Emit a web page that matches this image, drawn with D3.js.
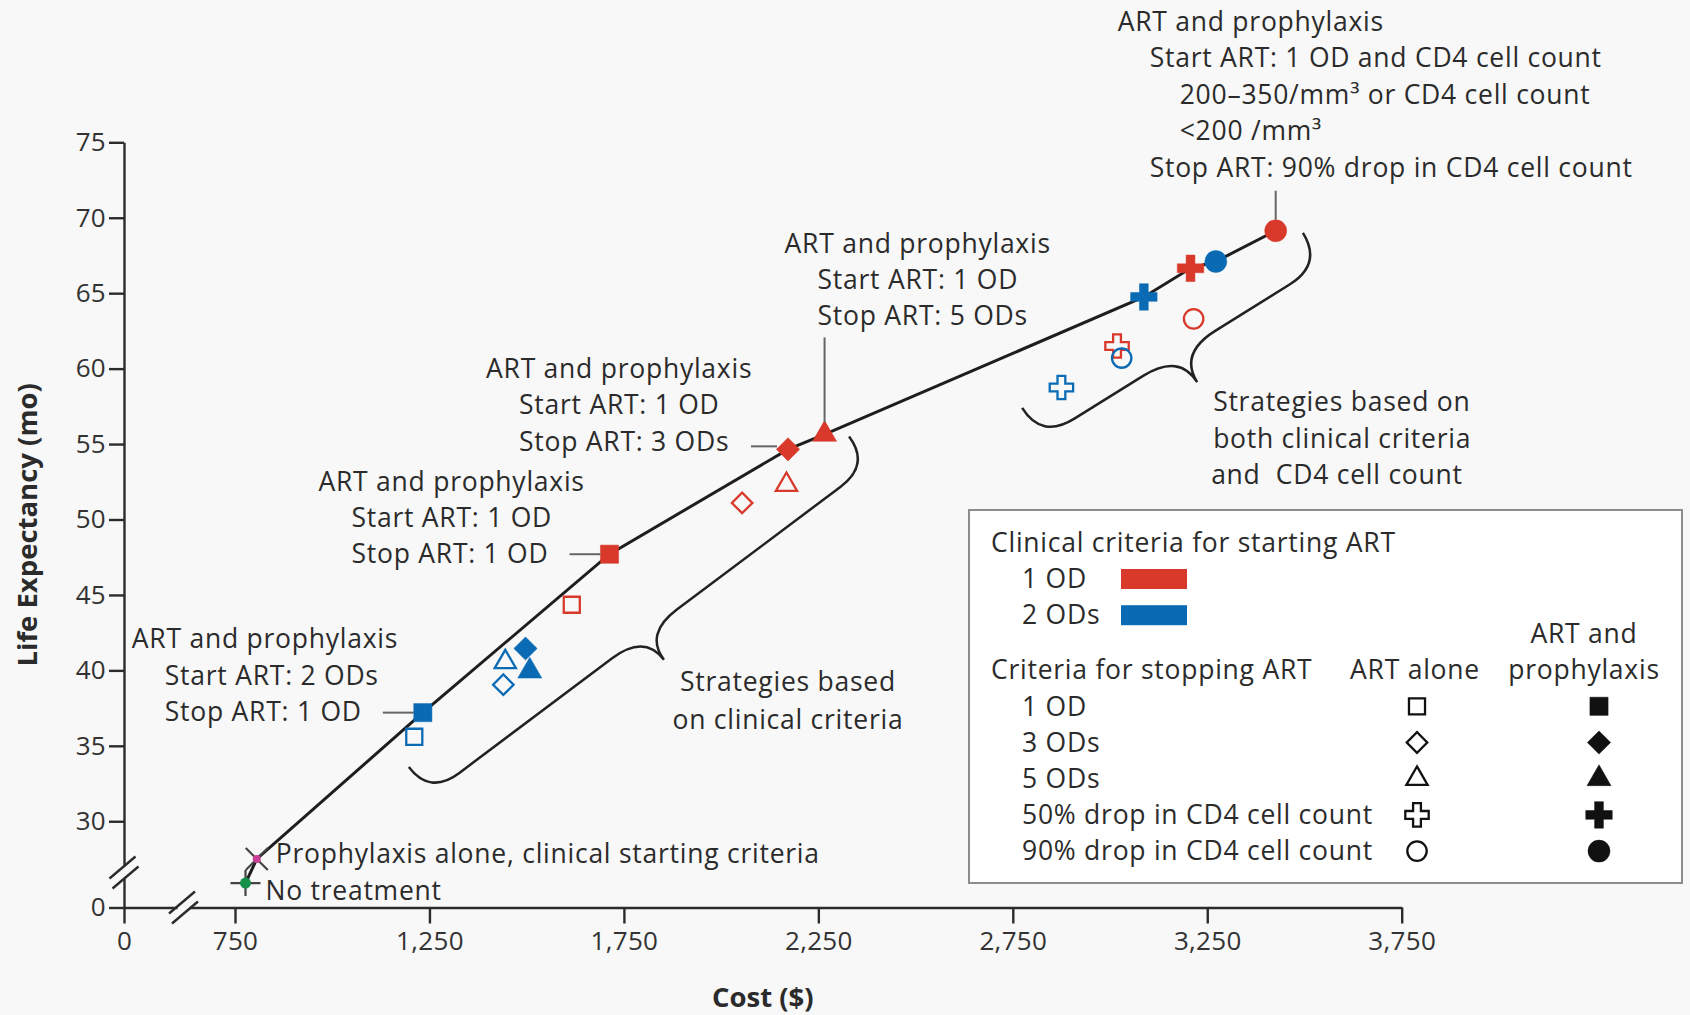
<!DOCTYPE html>
<html>
<head>
<meta charset="utf-8">
<script src="https://cdn.jsdelivr.net/npm/d3@7"></script>
<style>
  html, body { margin: 0; padding: 0; background: #f8f8f8; }
  svg { display: block; font-family: "Open Sans", sans-serif; }
</style>
</head>
<body>
<svg id="chart" width="1690" height="1015"></svg>
<script>
// ---- Data -------------------------------------------------------------
// Criteria for stopping ART (legend order) and the symbol used for each
const stopCriteria = ["1 OD", "3 ODs", "5 ODs", "50% drop in CD4 cell count", "90% drop in CD4 cell count"];
const stopShapes = ["square", "diamond", "triangle", "cross", "circle"];
// Clinical criteria for starting ART
const startCriteria = ["1 OD", "2 ODs"];

// Cost ($) and life expectancy (mo), one value per stopping criterion
const cost1OdAlone = [1616, 2054, 2168, 3018, 3215];
const life1OdAlone = [44.35, 51.1, 52.3, 61.5, 63.3];
const cost1OdProph = [1713, 2172, 2266, 3207, 3426];
const life1OdProph = [47.7, 54.65, 55.64, 66.65, 69.14];
const cost2OdAlone = [1211, 1440, 1445, 2875, 3030];
const life2OdAlone = [35.6, 39.05, 40.55, 58.75, 60.7];
const cost2OdProph = [1233, 1497, 1508, 3087, 3272];
const life2OdProph = [37.2, 41.45, 39.95, 64.75, 67.1];

// Reference strategies [cost, life expectancy]
const noTreatment = [777, 25.9];
const prophylaxisAlone = [806, 27.5];

// Axis ticks
const xTicks = [0, 750, 1250, 1750, 2250, 2750, 3250, 3750];
const yTicks = [0, 30, 35, 40, 45, 50, 55, 60, 65, 70, 75];

// ---- Setup ------------------------------------------------------------
const RED = "#d8392b", BLUE = "#0a6bb4", INK = "#2b2b2b", BG = "#f8f8f8";
const svg = d3.select("#chart");

// Both axes are broken: 0 sits below the continuous part of each scale
const x = d3.scaleLinear().domain([0, 750, 3750]).range([124, 235, 1401.7]);
const y = d3.scaleLinear().domain([0, 25, 75]).range([907.5, 896.7, 142.3]);

// Strategy records
const strategies = [];
function addSeries(costs, lives, start, proph) {
  costs.forEach((c, i) => strategies.push({
    cost: c, life: lives[i], start, proph, stop: i, shape: stopShapes[i]
  }));
}
addSeries(cost1OdAlone, life1OdAlone, 0, false);
addSeries(cost2OdAlone, life2OdAlone, 1, false);
addSeries(cost1OdProph, life1OdProph, 0, true);
addSeries(cost2OdProph, life2OdProph, 1, true);
const find = (start, proph, stop) => strategies.find(s => s.start === start && s.proph === proph && s.stop === stop);

// ---- Axes -------------------------------------------------------------
const xAxis = svg.append("g").attr("transform", `translate(0,${y(0)})`)
  .call(d3.axisBottom(x).tickValues(xTicks).tickFormat(d3.format(",")).tickSize(16).tickPadding(8).tickSizeOuter(0));
const yAxis = svg.append("g").attr("transform", `translate(${x(0)},0)`)
  .call(d3.axisLeft(y).tickValues(yTicks).tickSize(15).tickPadding(3).tickSizeOuter(0));
[xAxis, yAxis].forEach(g => {
  g.selectAll("path.domain, line").attr("stroke", INK).attr("stroke-width", 2.4);
  g.selectAll("text").attr("fill", "#333").style("font-size", "26px").style("letter-spacing", "0.3px")
    .style("font-family", "Open Sans, sans-serif");
});

// Axis break marks
function breakMark(cx, cy) {
  const g = svg.append("g");
  g.append("rect").attr("x", cx - 6).attr("y", cy - 6).attr("width", 12).attr("height", 12).attr("fill", BG);
  [-5, 5].forEach(o => {
    g.append("line")
      .attr("x1", cx - 13 + o * 0.3).attr("y1", cy + 11 + o)
      .attr("x2", cx + 13 + o * 0.3).attr("y2", cy - 11 + o)
      .attr("stroke", INK).attr("stroke-width", 2.4);
  });
}
breakMark(x(0), y(0) - 35);
breakMark((x(0) + x(750)) / 2 + 4, y(0));

// Axis titles
svg.append("text").attr("x", (x(0) + x(3750)) / 2).attr("y", 997).attr("dy", "0.35em")
  .attr("text-anchor", "middle").attr("font-weight", 700).attr("font-size", 27.5).attr("fill", INK)
  .text("Cost ($)");
svg.append("text").attr("transform", `translate(27,${(y(0) + y(75)) / 2}) rotate(-90)`).attr("dy", "0.35em")
  .attr("text-anchor", "middle").attr("font-weight", 700).attr("font-size", 27.5).attr("fill", INK)
  .text("Life Expectancy (mo)");

// ---- Efficient frontier ------------------------------------------------
const frontier = [
  noTreatment, prophylaxisAlone,
  [find(1, true, 0).cost, find(1, true, 0).life],
  [find(0, true, 0).cost, find(0, true, 0).life],
  [find(0, true, 1).cost, find(0, true, 1).life],
  [find(0, true, 2).cost, find(0, true, 2).life],
  [find(1, true, 3).cost, find(1, true, 3).life],
  [find(0, true, 3).cost, find(0, true, 3).life],
  [find(1, true, 4).cost, find(1, true, 4).life],
  [find(0, true, 4).cost, find(0, true, 4).life]
];
svg.append("path").datum(frontier)
  .attr("d", d3.line().x(d => x(d[0])).y(d => y(d[1])))
  .attr("fill", "none").attr("stroke", "#1e1e1e").attr("stroke-width", 3);

// ---- Braces -----------------------------------------------------------
function bracePath(S, E, T) {
  const dx = E[0] - S[0], dy = E[1] - S[1];
  const L = Math.hypot(dx, dy);
  const ux = dx / L, uy = dy / L;
  let nx = -uy, ny = ux;
  const tx = T[0] - S[0], ty = T[1] - S[1];
  let D = tx * nx + ty * ny;
  if (D < 0) { nx = -nx; ny = -ny; D = -D; }
  const tu = tx * ux + ty * uy;
  const h = D * 0.52, r = h * 1.05, r2 = (D - h) * 1.25;
  const P = (u, v) => [S[0] + u * ux + v * nx, S[1] + u * uy + v * ny];
  const p = d3.path();
  p.moveTo(...P(0, 0));
  p.quadraticCurveTo(...P(0, h), ...P(r, h));
  p.lineTo(...P(tu - r2, h));
  p.quadraticCurveTo(...P(tu, h), ...P(tu, D));
  p.quadraticCurveTo(...P(tu, h), ...P(tu + r2, h));
  p.lineTo(...P(L - r, h));
  p.quadraticCurveTo(...P(L, h), ...P(L, 0));
  return p.toString();
}
const px = d => [x(d[0]), y(d[1])];
// Braces in data units: [start, end, tip]
const braceClinical = [[1197, 33.6], [2329, 55.5], [1853, 40.7]];
const braceCd4 = [[2774, 57.4], [3496, 69.0], [3224, 59.1]];
[braceClinical, braceCd4].forEach(b => {
  svg.append("path").attr("d", bracePath(px(b[0]), px(b[1]), px(b[2])))
    .attr("fill", "none").attr("stroke", "#222").attr("stroke-width", 2.5);
});

// ---- Markers ----------------------------------------------------------
const shapeDef = {
  square:   { type: d3.symbolSquare,   size: 330, rot: 0 },
  diamond:  { type: d3.symbolSquare,   size: 270, rot: 45 },
  triangle: { type: d3.symbolTriangle, size: 250, rot: 0 },
  cross:    { type: d3.symbolCross,    size: 390, rot: 0 },
  circle:   { type: d3.symbolCircle,   size: 380, rot: 0 }
};
function drawSymbol(g, shape, cx, cy, color, filled) {
  const def = shapeDef[shape];
  const size = filled ? def.size : def.size * 0.78;
  g.append("path")
    .attr("d", d3.symbol().type(def.type).size(size)())
    .attr("transform", `translate(${cx},${cy}) rotate(${def.rot})`)
    .attr("fill", filled ? color : "none")
    .attr("stroke", color).attr("stroke-width", filled ? 0.5 : 2.3);
}
const markers = svg.append("g");
const order = strategies.slice().sort((a, b) => (a.proph - b.proph) || (a.start - b.start));
order.forEach(s => drawSymbol(markers, s.shape, x(s.cost), y(s.life), s.start === 0 ? RED : BLUE, s.proph));

// No treatment (plus with green centre) and prophylaxis alone (cross with magenta centre)
const nt = px(noTreatment), pa = px(prophylaxisAlone);
markers.append("path").attr("d", `M${nt[0] - 15},${nt[1]}H${nt[0] + 15}M${nt[0]},${nt[1] - 13}V${nt[1] + 13}`)
  .attr("stroke", "#444").attr("stroke-width", 2.2);
markers.append("circle").attr("cx", nt[0]).attr("cy", nt[1]).attr("r", 5.5).attr("fill", "#159048");
markers.append("path").attr("d", `M${pa[0] - 11},${pa[1] - 11}L${pa[0] + 11},${pa[1] + 11}M${pa[0] - 11},${pa[1] + 11}L${pa[0] + 11},${pa[1] - 11}`)
  .attr("stroke", "#444").attr("stroke-width", 2.2);
markers.append("circle").attr("cx", pa[0]).attr("cy", pa[1]).attr("r", 4).attr("fill", "#c83e96");

// ---- Annotations ------------------------------------------------------
const FS = 26.5;
function textLine(tx, ty, str, anchor) {
  return svg.append("text").attr("x", tx).attr("y", ty).attr("dy", "0.35em")
    .attr("text-anchor", anchor || "start").attr("font-size", FS).attr("fill", INK)
    .style("letter-spacing", "0.75px").style("white-space", "pre").text(str);
}
function leader(x1, y1, x2, y2) {
  svg.append("line").attr("x1", x1).attr("y1", y1).attr("x2", x2).attr("y2", y2)
    .attr("stroke", "#666").attr("stroke-width", 2);
}
// Each block: anchor strategy, lines [text, dx, dy] relative to the marker, leader segment
const blocks = [
  { s: find(0, true, 4), lines: [
      ["ART and prophylaxis", -158, -209],
      ["Start ART: 1 OD and CD4 cell count", -126, -172.5],
      ["200–350/mm³ or CD4 cell count", -96, -136],
      ["<200 /mm³", -96, -99.5],
      ["Stop ART: 90% drop in CD4 cell count", -126, -63]],
    lead: [0, -40, 0, -11] },
  { s: find(0, true, 2), lines: [
      ["ART and prophylaxis", -40, -191],
      ["Start ART: 1 OD", -7, -154.8],
      ["Stop ART: 5 ODs", -7, -118.6]],
    lead: [0, -97, 0, -12] },
  { s: find(0, true, 1), lines: [
      ["ART and prophylaxis", -302, -80.5],
      ["Start ART: 1 OD", -269, -44.3],
      ["Stop ART: 3 ODs", -269, -8]],
    lead: [-37, -3, -11, -3] },
  { s: find(0, true, 0), lines: [
      ["ART and prophylaxis", -291, -72.5],
      ["Start ART: 1 OD", -258, -36.3],
      ["Stop ART: 1 OD", -258, -0]],
    lead: [-40, 0, -9, 0] },
  { s: find(1, true, 0), lines: [
      ["ART and prophylaxis", -291, -73.5],
      ["Start ART: 2 ODs", -258, -37.3],
      ["Stop ART: 1 OD", -258, -1]],
    lead: [-40, 0, -9, 0] }
];
blocks.forEach(b => {
  const ax = x(b.s.cost), ay = y(b.s.life);
  b.lines.forEach(l => textLine(ax + l[1], ay + l[2], l[0]));
  leader(ax + b.lead[0], ay + b.lead[1], ax + b.lead[2], ay + b.lead[3]);
});
textLine(pa[0] + 19, pa[1] - 5, "Prophylaxis alone, clinical starting criteria");
textLine(nt[0] + 20, nt[1] + 8, "No treatment");

const tipA = px(braceClinical[2]);
textLine(tipA[0] + 124, tipA[1] + 22, "Strategies based", "middle");
textLine(tipA[0] + 124, tipA[1] + 60, "on clinical criteria", "middle");
const tipB = px(braceCd4[2]);
textLine(tipB[0] + 16, tipB[1] + 20, "Strategies based on");
textLine(tipB[0] + 16, tipB[1] + 56.5, "both clinical criteria");
textLine(tipB[0] + 14, tipB[1] + 93, "and  CD4 cell count");

// ---- Legend -----------------------------------------------------------
const lg = svg.append("g");
lg.append("rect").attr("x", 969).attr("y", 510).attr("width", 713).attr("height", 373)
  .attr("fill", "#ffffff").attr("stroke", "#8c8c8c").attr("stroke-width", 2);
textLine(991, 543, "Clinical criteria for starting ART");
startCriteria.forEach((c, i) => {
  const ry = 579 + i * 36.2;
  textLine(1022, ry, c);
  lg.append("rect").attr("x", 1121).attr("y", ry - 10).attr("width", 66).attr("height", 20)
    .attr("fill", i === 0 ? RED : BLUE);
});
textLine(991, 670, "Criteria for stopping ART");
textLine(1415, 670, "ART alone", "middle");
textLine(1584, 633.5, "ART and", "middle");
textLine(1584, 670, "prophylaxis", "middle");
stopCriteria.forEach((c, i) => {
  const ry = 706.3 + i * 36.2;
  textLine(1022, ry, c);
  drawSymbol(lg, stopShapes[i], 1417, ry, "#111", false);
  drawSymbol(lg, stopShapes[i], 1599, ry, "#111", true);
});
</script>
</body>
</html>
